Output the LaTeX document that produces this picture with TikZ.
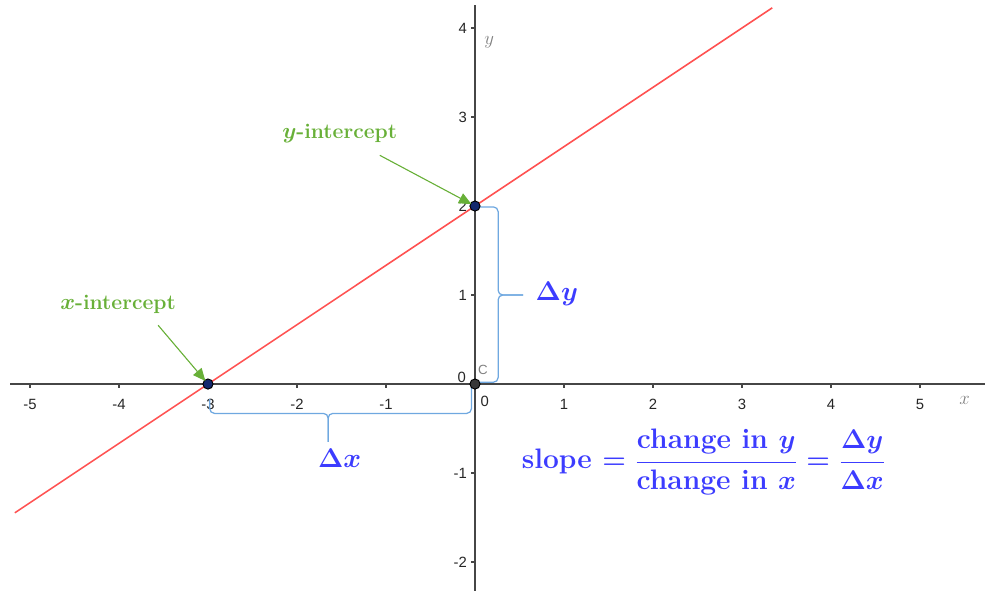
\documentclass[tikz,border=0pt]{standalone}
\usepackage{amsmath}
\usepackage{fontspec}
\newfontfamily\ticksf{Liberation Sans}
\usetikzlibrary{arrows.meta,positioning}
\definecolor{lineRed}{RGB}{255,82,82}
\definecolor{braceBlue}{RGB}{111,168,224}
\definecolor{textBlue}{RGB}{60,60,255}
\definecolor{labelGreen}{RGB}{104,176,56}
\definecolor{pointNavy}{RGB}{20,40,110}
\definecolor{axisGray}{RGB}{70,70,70}

\begin{document}
\begin{tikzpicture}[
    x=2cm, y=2cm,
    axis/.style={draw=axisGray, line width=1.2pt},
    ticklabel/.style={font=\ticksf\fontsize{9.5}{10}\selectfont, text=black!85, inner sep=1pt},
    axislabel/.style={font=\fontsize{13}{15}\selectfont, text=gray},
    graphline/.style={draw=lineRed, line width=1pt},
    dot/.style={circle, draw=black, fill=pointNavy, inner sep=0pt, minimum size=6.5pt, line width=0.6pt},
    brace/.style={draw=braceBlue, line width=0.8pt, rounded corners=3pt},
    callout/.style={font=\fontsize{13.5}{16}\selectfont\bfseries\boldmath, text=labelGreen},
    callarrow/.style={-{Triangle[length=8pt,width=7pt]}, draw=labelGreen, fill=labelGreen, line width=0.7pt, shorten >=-1pt},
    deltalabel/.style={font=\fontsize{18}{22}\selectfont\bfseries\boldmath, text=textBlue}
]
\useasboundingbox (-5.337,-2.315) rectangle (5.753,4.315);

% === AXES ===
\draw[axis] (-5.22,0) -- (5.73,0);
\draw[axis] (0,-2.4) -- (0,4.26);
\foreach \x in {-5,...,-1,1,2,...,5} {
    \draw[axisGray, line width=0.8pt] (\x,0) -- (\x,-0.05);
    \node[ticklabel] at (\x,-0.225) {\x};
}
\foreach \y in {-2,-1,1,2,3,4} {
    \draw[axisGray, line width=0.8pt] (0,\y) -- (-0.05,\y);
    \node[ticklabel, anchor=east] at (-0.07,\y) {\y};
}
\node[ticklabel] at (0.11,-0.2) {0};
\node[ticklabel] at (-0.15,0.08) {0};
\node[axislabel] at (5.5,-0.19) {$x$};
\node[axislabel] at (0.16,3.84) {$y$};

% === LINE ===
\draw[graphline] (-5.17,-1.447) -- (3.34,4.227);

% === BRACES ===
\draw[brace] (0.03,1.99) -| (0.26,1) -- (0.54,1);
\draw[brace] (0.54,1) -- (0.26,1) |- (0.03,0.02);
\draw[brace] (-2.98,-0.17) |- (-1.65,-0.33) -- (-1.65,-0.65);
\draw[brace] (-1.65,-0.65) -- (-1.65,-0.33) -| (-0.04,-0.02);
\node[ticklabel, text=gray, font=\ticksf\fontsize{8.5}{9}\selectfont] (cmark) at (0.09,0.16) {C};

% === POINTS ===
\node[dot] (xint) at (-3,0) {};
\node[dot] (yint) at (0,2) {};
\node[dot, fill=axisGray!80!black] (orig) at (0,0) {};

% === CALLOUTS ===
\node[callout] (ylab) at (-1.52,2.82) {$y$-intercept};
\node[callout] (xlab) at (-4.01,0.89) {$x$-intercept};
\coordinate (ytail) at (-1.07,2.57);
\coordinate (xtail) at (-3.56,0.66);
\draw[callarrow] (ytail) -- (yint);
\draw[callarrow] (xtail) -- (xint);

% === DELTAS ===
\node[deltalabel] (dy) at (0.92,1.01) {$\Delta y$};
\node[deltalabel] (dx) at (-1.52,-0.83) {$\Delta x$};
\node[deltalabel] (slope) at (2.57,-0.876) {slope $= \dfrac{\text{change in } y}{\text{change in } x} = \dfrac{\Delta y}{\Delta x}$};

\end{tikzpicture}
\end{document}
